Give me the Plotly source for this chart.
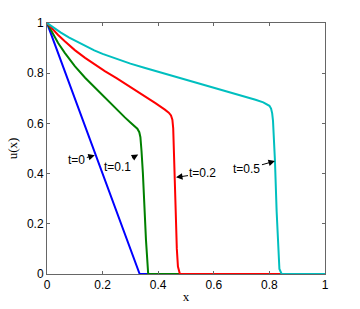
import plotly.graph_objects as go

# t = 0
x_t0 = [0.0, 1/3, 1.0]
u_t0 = [1.0, 0.0, 0.0]

# t = 0.1
x_t01 = [0.0, 0.02, 0.04, 0.064, 0.10, 0.137, 0.17, 0.208, 0.25, 0.28, 0.30, 0.315, 0.325, 0.332, 0.336, 0.340, 0.345, 0.356, 0.360, 0.364, 1.0]
u_t01 = [1.0, 0.958, 0.92, 0.881, 0.828, 0.782, 0.745, 0.703, 0.657, 0.624, 0.604, 0.59, 0.579, 0.565, 0.545, 0.49, 0.40, 0.136, 0.05, 0.0, 0.0]

# t = 0.2
x_t02 = [0.0, 0.02, 0.04, 0.064, 0.10, 0.137, 0.17, 0.208, 0.25, 0.28, 0.32, 0.352, 0.39, 0.424, 0.438, 0.446, 0.451, 0.454, 0.456, 0.459, 0.463, 0.467, 0.471, 0.478, 1.0]
u_t02 = [1.0, 0.975, 0.952, 0.927, 0.892, 0.861, 0.835, 0.808, 0.78, 0.759, 0.732, 0.709, 0.681, 0.655, 0.643, 0.632, 0.615, 0.58, 0.52, 0.40, 0.25, 0.10, 0.03, 0.0, 0.0]

# t = 0.5
x_t05 = [0.0, 0.02, 0.05, 0.08, 0.11, 0.14, 0.17, 0.20, 0.25, 0.30, 0.35, 0.40, 0.45, 0.50, 0.55, 0.60, 0.65, 0.70, 0.75, 0.778, 0.79, 0.80, 0.806, 0.810, 0.813, 0.816, 0.820, 0.826, 0.832, 0.836, 0.844, 1.0]
u_t05 = [1.0, 0.984, 0.962, 0.942, 0.924, 0.907, 0.891, 0.877, 0.856, 0.838, 0.822, 0.806, 0.790, 0.774, 0.759, 0.744, 0.728, 0.711, 0.694, 0.684, 0.678, 0.670, 0.659, 0.64, 0.61, 0.55, 0.45, 0.25, 0.08, 0.02, 0.0, 0.0]

labels = ["t=0", "t=0.1", "t=0.2", "t=0.5"]
tip_x = [0.172, 0.328, 0.464, 0.820]
tip_y = [0.473, 0.476, 0.385, 0.450]

colors = ["#0000FF", "#008000", "#FF0000", "#00BFBF"]

fig = go.Figure()
for xs, ys, c in zip([x_t0, x_t01, x_t02, x_t05], [u_t0, u_t01, u_t02, u_t05], colors):
    fig.add_trace(go.Scatter(x=xs, y=ys, mode="lines", line=dict(color=c, width=2), showlegend=False))

offsets = [(-18, 5), (-21, 12), (27, -4), (-28, 8)]
for lab, tx, ty, (ax, ay) in zip(labels, tip_x, tip_y, offsets):
    fig.add_annotation(x=tx, y=ty, text=lab, showarrow=True, ax=ax, ay=ay,
                       arrowhead=2, arrowsize=1.3, arrowwidth=1, arrowcolor="black",
                       font=dict(family="Liberation Sans, Arial", size=12, color="black"))

axis_common = dict(range=[0, 1], showgrid=False, zeroline=False, showline=True,
                   linecolor="#666666", linewidth=1, mirror="ticks", ticks="inside",
                   ticklen=3, tickcolor="#666666", automargin=False,
                   tickfont=dict(family="Liberation Sans, Arial", size=12, color="black"))

fig.update_xaxes(tickvals=[0, 0.2, 0.4, 0.6, 0.8, 1], ticktext=["0", "0.2", "0.4", "0.6", "0.8", "1"],
                 title=dict(text="x", font=dict(family="Liberation Serif, Times New Roman", size=13, color="black"), standoff=0),
                 **axis_common)
fig.update_yaxes(tickvals=[0, 0.2, 0.4, 0.6, 0.8, 1], ticktext=["0", "0.2", "0.4", "0.6", "0.8", "1"],
                 title=dict(text="u(x)", font=dict(family="Liberation Serif, Times New Roman", size=13, color="black"), standoff=6),
                 **axis_common)

fig.update_layout(width=360, height=309, margin=dict(l=47, r=35, t=23, b=35),
                  paper_bgcolor="white", plot_bgcolor="white")

fig.write_html("out.html", config={"displayModeBar": False},
               post_script="document.body.style.margin='0px';document.body.style.overflow='hidden';")
